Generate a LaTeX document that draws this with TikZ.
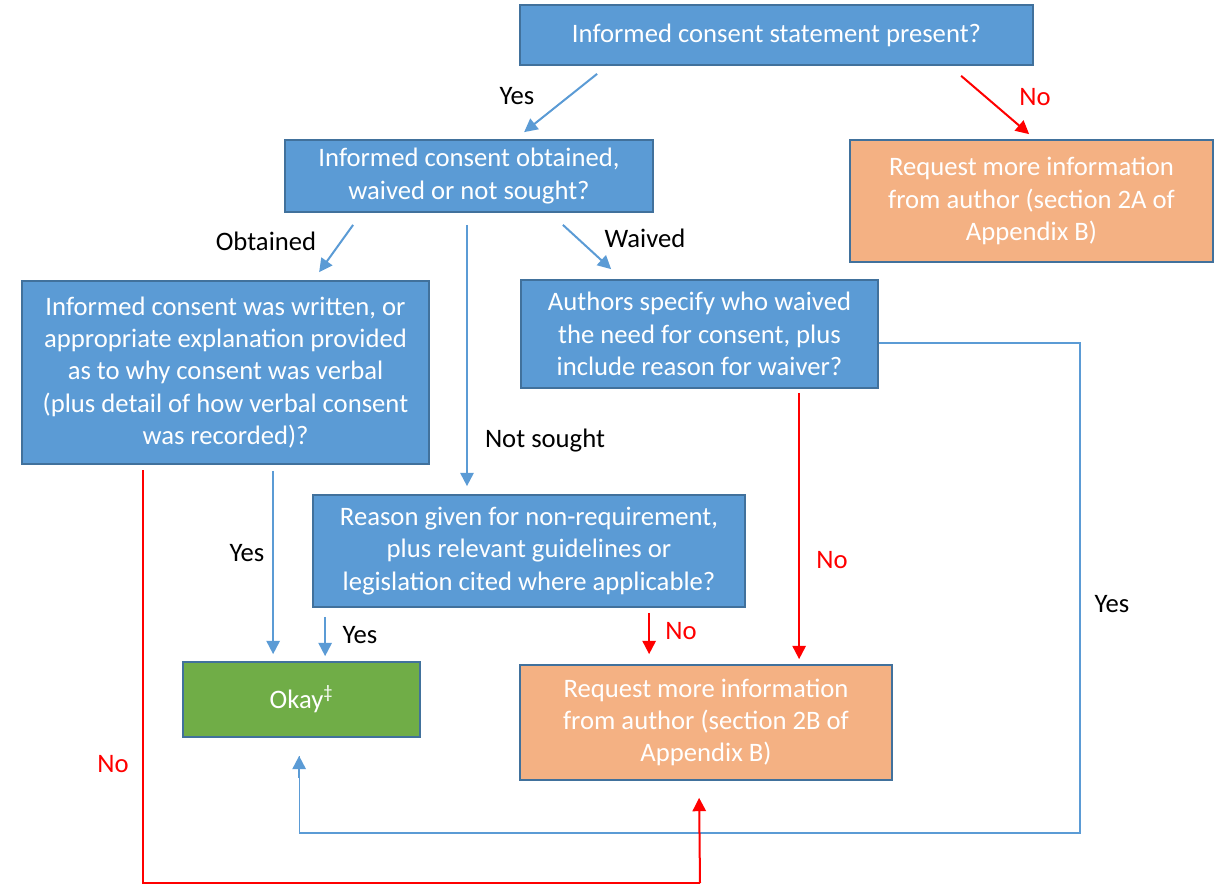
\documentclass[tikz,border=0pt]{standalone}
\usepackage{fontspec}
\setmainfont{Carlito}
\usepackage{tikz}
\usetikzlibrary{arrows.meta}
\usetikzlibrary{positioning}
\usetikzlibrary{calc}
\definecolor{boxblue}{HTML}{5B9BD5}
\definecolor{edgeblue}{HTML}{41719C}
\definecolor{boxorange}{HTML}{F4B183}
\definecolor{boxgreen}{HTML}{70AD47}
\definecolor{nored}{HTML}{FF0000}
\tikzstyle{qbox} = [rectangle, 
draw=edgeblue, 
line width=1.3pt,
fill=boxblue,
text=white,
align=center,
inner sep=0pt]
\tikzstyle{reqbox} = [qbox, fill=boxorange]
\tikzstyle{okbox} = [qbox, fill=boxgreen]
\tikzstyle{line} = [draw=boxblue, line width=1.5pt, -{Triangle[width=10pt,length=10pt]}]
\tikzstyle{redline} = [draw=nored, line width=1.5pt, -{Triangle[width=10pt,length=10pt]}]
\tikzstyle{thinline} = [draw=boxblue, line width=0.8pt]
\tikzstyle{thinred} = [draw=nored, line width=0.8pt]
\tikzstyle{lbl} = [text=black]
\tikzstyle{nolbl} = [text=nored]

\begin{document}
\begin{tikzpicture}[x=0.75pt, y=-0.75pt, font=\fontsize{20}{24.2}\selectfont]
\useasboundingbox (0,0) rectangle (1218,889);

\node [qbox, minimum width=513*0.75pt, minimum height=60*0.75pt] (top) at (776.5,35) {Informed consent statement present?};
\node [reqbox, minimum width=363*0.75pt, minimum height=122*0.75pt] (req2A) at (1031.5,201) {Request more information\\from author (section 2A of\\Appendix B)};
\node [qbox, minimum width=368*0.75pt, minimum height=72*0.75pt] (q2) at (469,176) {Informed consent obtained,\\waived or not sought?};
\node [qbox, minimum width=407*0.75pt, minimum height=183*0.75pt] (obt) at (225.5,372.5) {Informed consent was written, or\\appropriate explanation provided\\as to why consent was verbal\\(plus detail of how verbal consent\\was recorded)?};
\node [qbox, minimum width=357*0.75pt, minimum height=108*0.75pt] (waiv) at (699.5,334) {Authors specify who waived\\the need for consent, plus\\include reason for waiver?};
\node [qbox, minimum width=432*0.75pt, minimum height=112*0.75pt] (ns) at (529,551) {Reason given for non-requirement,\\plus relevant guidelines or\\legislation cited where applicable?};
\node [okbox, minimum width=237*0.75pt, minimum height=75*0.75pt] (okay) at (301.5,699.5) {Okay\textsuperscript{‡}};
\node [reqbox, minimum width=372*0.75pt, minimum height=115*0.75pt] (req2B) at (706,722.5) {Request more information\\from author (section 2B of\\Appendix B)};

% labels
\node [lbl] (yes1) at (517,96) {Yes};
\node [nolbl] (no1) at (1035,97) {No};
\node [lbl] (lobt) at (266,241) {Obtained};
\node [lbl] (lwaiv) at (645,238) {Waived};
\node [lbl] (lns) at (545,441) {Not sought};
\node [lbl] (yes2) at (247,553) {Yes};
\node [lbl] (yes3) at (360,635) {Yes};
\node [nolbl] (no2) at (681,631) {No};
\node [nolbl] (no3) at (832,560) {No};
\node [lbl] (yes4) at (1112,604) {Yes};
\node [nolbl] (no4) at (113,764) {No};

\coordinate (cb1) at (1080,343);
\coordinate (cb2) at (1080,833);
\coordinate (cr1) at (143,470);
\coordinate (cr2) at (700,883);

\path [line] ($(top.south west)+(78,8)$) -- ($(q2.north west)+(240,-7)$);
\path [redline] ($(top.south west)+(442,10)$) -- ($(req2A.north west)+(180,-5)$);
\path [line] ($(q2.south west)+(69,12)$) -- ($(obt.north west)+(298,-8)$);
\path [line] ($(q2.south)+(-2,12)$) -- ($(ns.north)+(-62,-8)$);
\path [line] ($(q2.south east)+(-91,12)$) -- ($(waiv.north west)+(91,-10)$);
\path [line] ($(obt.south west)+(252,6)$) -- ($(okay.north west)+(91,-7)$);
\path [line] ($(ns.south west)+(13,9)$) -- ($(okay.north west)+(143,-5)$);
\path [redline] ($(ns.south west)+(337,5)$) -- ($(req2B.north west)+(130,-10)$);
\path [redline] ($(waiv.south west)+(279,4)$) -- ($(req2B.north west)+(280,-5)$);

\path [thinline] (waiv.east |- cb1) -- (cb1) -- (cb2) -| ($(okay.south west)+(117,18)$);
\path [line] ($(okay.south west)+(117,40)$) -- ($(okay.south west)+(117,18)$);
\path [thinred] (cr1) |- (cr2);
\path [redline] (cr2) -- ($(req2B.south west)+(180,17)$);

\end{tikzpicture}
\end{document}
